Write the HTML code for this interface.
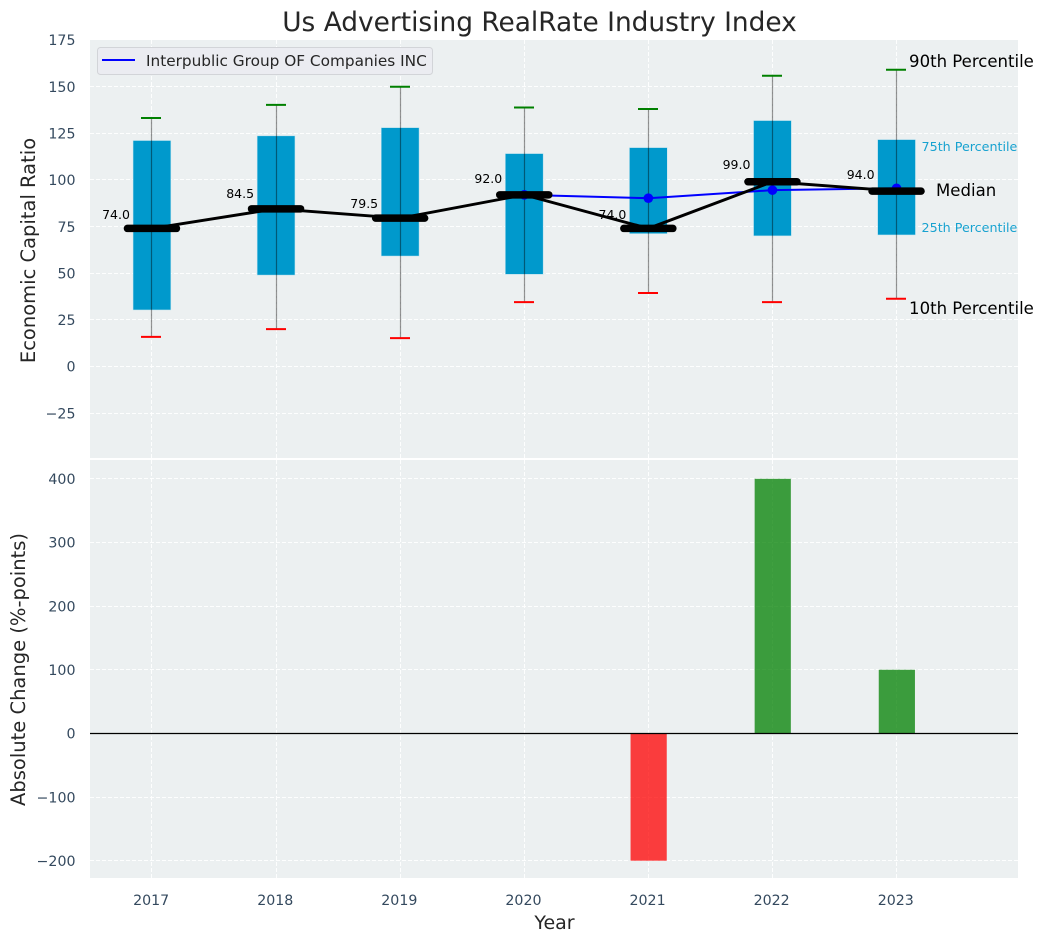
<!DOCTYPE html>
<html lang="en">
<head>
<meta charset="utf-8">
<title>Us Advertising RealRate Industry Index</title>
<style>
html,body{margin:0;padding:0;background:#fff;}
svg{display:block;font-family:"DejaVu Sans","Liberation Sans",sans-serif;}
</style>
</head>
<body>
<svg id="chart" xmlns="http://www.w3.org/2000/svg" width="1044" height="942" viewBox="0 0 1044 942"></svg>
<script>
const years = [2017, 2018, 2019, 2020, 2021, 2022, 2023];
const p90 = [133.2, 140.2, 149.9, 138.8, 138, 155.8, 159];
const p75 = [121.1, 123.6, 128, 114.1, 117.3, 131.8, 121.6];
const medians = [74.0, 84.5, 79.5, 92.0, 74.0, 99.0, 94.0];
const p25 = [30.3, 49, 59.2, 49.4, 71.2, 70, 70.5];
const p10 = [15.9, 20, 15.2, 34.5, 39.4, 34.5, 36.3];
const company = [null, null, null, 92, 90.2, 94.5, 95.5];
const changes = [null, null, null, null, -200, 400, 100];
const topTicks = [175, 150, 125, 100, 75, 50, 25, 0, -25];
const bottomTicks = [400, 300, 200, 100, 0, -100, -200];

const svg = document.getElementById('chart');
const NS = 'http://www.w3.org/2000/svg';
const L = 90, R = 1018, T1 = 40, B1 = 458, T2 = 460, B2 = 878;
const xS = v => 151.95 + (v - 2017) * 124.1;
const yTop = v => 366.5 - v * 1.866;
const yBot = v => 733.4 - v * 0.6365;
const snap = p => Math.floor(p) + 0.5;

function mk(tag, attrs, text) {
  const el = document.createElementNS(NS, tag);
  for (const k in attrs) el.setAttribute(k, attrs[k]);
  if (text !== undefined) el.textContent = text;
  svg.appendChild(el);
  return el;
}
function fmtTick(v) { return v < 0 ? '\u2212' + Math.abs(v) : String(v); }
function name(el, n, active) {
  
  
  return el;
}

// Panels
let el = mk('rect', {x: L, y: T1, width: R - L, height: B1 - T1, fill: '#ecf0f1'});


el = mk('rect', {x: L, y: T2, width: R - L, height: B2 - T2, fill: '#ecf0f1'});



// Grid
const gridStyle = {stroke: '#ffffff', 'stroke-width': 1, 'stroke-dasharray': '4 2', 'stroke-opacity': 0.9};
topTicks.forEach(t => {
  const y = snap(yTop(t));
  if (t !== 175) name(mk('line', Object.assign({x1: L, x2: R, y1: y, y2: y}, gridStyle)), 'top-grid-line-y');
  name(mk('text', {x: 75.5, y: yTop(t) + 5.2, 'text-anchor': 'end', 'font-size': 14.2, fill: '#34495e'}, fmtTick(t)), 'top-y-tick-label');
});
bottomTicks.forEach(t => {
  const y = snap(yBot(t));
  name(mk('line', Object.assign({x1: L, x2: R, y1: y, y2: y}, gridStyle)), 'bottom-grid-line-y');
  name(mk('text', {x: 75.5, y: yBot(t) + 5.2, 'text-anchor': 'end', 'font-size': 14.2, fill: '#34495e'}, fmtTick(t)), 'bottom-y-tick-label');
});
years.forEach(yr => {
  const x = snap(xS(yr));
  name(mk('line', Object.assign({x1: x, x2: x, y1: T1, y2: B1}, gridStyle)), 'top-grid-line-x');
  name(mk('line', Object.assign({x1: x, x2: x, y1: T2, y2: B2}, gridStyle)), 'bottom-grid-line-x');
  name(mk('text', {x: xS(yr) - 0.8, y: 905, 'text-anchor': 'middle', 'font-size': 14.2, fill: '#34495e'}, String(yr)), 'x-tick-label');
});

// Value labels
years.forEach((yr, i) => {
  name(mk('text', {x: xS(yr) - 22, y: yTop(medians[i] * 1.068), 'text-anchor': 'end', 'font-size': 12.5, fill: '#000'}, medians[i].toFixed(1)), 'median-value-label');
});

// Boxes, whiskers
years.forEach((yr, i) => {
  const x = xS(yr), sx = snap(x);
  name(mk('rect', {x: x - 18.9, y: yTop(p75[i]), width: 37.8, height: yTop(p25[i]) - yTop(p75[i]), fill: '#0099cc', stroke: '#bfe3ef', 'stroke-width': 0.5}), 'percentile-box-' + yr);
  name(mk('line', {x1: sx, x2: sx, y1: yTop(p90[i]), y2: yTop(p10[i]), stroke: '#000', 'stroke-opacity': 0.42, 'stroke-width': 1.2}), 'whisker-' + yr);
  name(mk('line', {x1: sx - 10.5, x2: sx + 9.5, y1: yTop(p90[i]), y2: yTop(p90[i]), stroke: '#008000', 'stroke-width': 2}), 'p90-cap-' + yr);
  name(mk('line', {x1: sx - 10.5, x2: sx + 9.5, y1: yTop(p10[i]), y2: yTop(p10[i]), stroke: '#ff0000', 'stroke-width': 2}), 'p10-cap-' + yr);
});

// Company line
const blue = years.map((yr, i) => company[i] === null ? null : xS(yr) + ',' + yTop(company[i])).filter(Boolean).join(' ');
name(mk('polyline', {points: blue, fill: 'none', stroke: '#0000ff', 'stroke-width': 2}), 'company-line');
years.forEach((yr, i) => {
  if (company[i] !== null) name(mk('circle', {cx: xS(yr), cy: yTop(company[i]), r: 4.8, fill: '#0000ff'}), 'company-point-' + yr);
});

// Median line and bars
const black = years.map((yr, i) => xS(yr) + ',' + yTop(medians[i])).join(' ');
name(mk('polyline', {points: black, fill: 'none', stroke: '#000', 'stroke-width': 2.9}), 'median-trend-line');
years.forEach((yr, i) => {
  const x = xS(yr), y = yTop(medians[i]);
  name(mk('line', {x1: x - 24.5, x2: x + 24.5, y1: y, y2: y, stroke: '#000', 'stroke-width': 7.5, 'stroke-linecap': 'round'}), 'median-bar-' + yr);
});

// Annotations on the last box
const xa = xS(2023);
name(mk('text', {x: xa + 12.5, y: 67, 'font-size': 16.55, fill: '#000'}, '90th Percentile'), 'annotation-90th');
name(mk('text', {x: xa + 12.5, y: 314, 'font-size': 16.55, fill: '#000'}, '10th Percentile'), 'annotation-10th');
name(mk('text', {x: xa + 39.5, y: 196, 'font-size': 16.55, fill: '#000'}, 'Median'), 'annotation-median');
name(mk('text', {x: xa + 25, y: 151, 'font-size': 12.7, fill: '#0099cc', 'fill-opacity': 0.9}, '75th Percentile'), 'annotation-75th');
name(mk('text', {x: xa + 25, y: 232, 'font-size': 12.7, fill: '#0099cc', 'fill-opacity': 0.9}, '25th Percentile'), 'annotation-25th');

// Change bars
years.forEach((yr, i) => {
  const v = changes[i];
  if (v === null) return;
  const y0 = yBot(0), y1 = yBot(v);
  name(mk('rect', {x: xS(yr) - 17.8, y: Math.min(y0, y1), width: 36.2, height: Math.abs(y1 - y0), fill: v < 0 ? '#ff0000' : '#008000', 'fill-opacity': 0.75}), 'change-bar-' + yr);
});
name(mk('line', {x1: L, x2: R, y1: snap(yBot(0)), y2: snap(yBot(0)), stroke: '#000', 'stroke-width': 1.2}), 'zero-line');

// Legend
el = mk('rect', {x: 97.5, y: 47.5, width: 335, height: 27, rx: 3, fill: '#ebecf1', stroke: '#d2d4d8', 'stroke-width': 1});


el = mk('line', {x1: 102, x2: 135, y1: 60, y2: 60, stroke: '#0000ff', 'stroke-width': 2});


el = mk('text', {x: 146, y: 66, 'font-size': 15.3, fill: '#262626'}, 'Interpublic Group OF Companies INC');



// Titles
el = mk('text', {x: 539.5, y: 31, 'text-anchor': 'middle', 'font-size': 26.4, fill: '#262626'}, 'Us Advertising RealRate Industry Index');


el = mk('text', {x: 554.5, y: 929, 'text-anchor': 'middle', 'font-size': 19, fill: '#262626'}, 'Year');


el = mk('text', {x: 0, y: 0, transform: 'translate(35 250.5) rotate(-90)', 'text-anchor': 'middle', 'font-size': 19.5, fill: '#262626'}, 'Economic Capital Ratio');


el = mk('text', {x: 0, y: 0, transform: 'translate(25 669.5) rotate(-90)', 'text-anchor': 'middle', 'font-size': 19.5, fill: '#262626'}, 'Absolute Change (%-points)');


</script>
</body>
</html>
